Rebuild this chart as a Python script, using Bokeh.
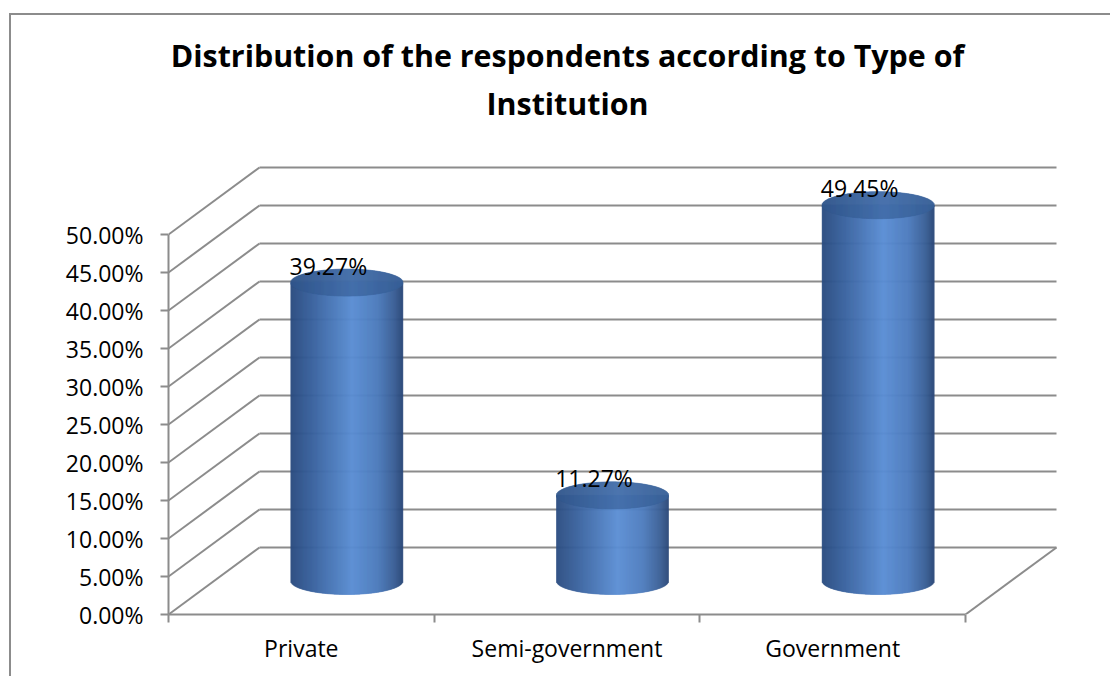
import numpy as np
from bokeh.plotting import figure
from bokeh.models import Range1d, FixedTicker, Label, ColumnDataSource, PrintfTickFormatter
from bokeh.core.properties import value
from bokeh.embed import file_html
from bokeh.resources import INLINE

# ---------------- data ----------------
categories = ["Private", "Semi-government", "Government"]
percentages = [39.27, 11.27, 49.45]
value_labels = ["39.27%", "11.27%", "49.45%"]
y_ticks = [0, 5, 10, 15, 20, 25, 30, 35, 40, 45, 50]
title_lines = ["Distribution of the respondents according to Type of", "Institution"]

# ---------------- geometry (page pixels) ----------------
PAGE_W, PAGE_H = 1112, 678
OFF_X, OFF_Y = 11, 15          # canvas origin on the page (margin + border)
FRAME_L, FRAME_B = 168, 614    # front axes corner on the page
PX_PER_CAT = 265.67
PX_PER_PCT = 7.6
DEPTH_PX_X, DEPTH_PX_Y = 91, 67
R_PX, B_PX = 56, 13.5
TITLE_CX = 567
TITLE_BASELINES = [55, 103]

W = PAGE_W - OFF_X
H = PAGE_H - OFF_Y
x_end = (PAGE_W - FRAME_L) / PX_PER_CAT
y_end = (FRAME_B - OFF_Y) / PX_PER_PCT
dx = DEPTH_PX_X / PX_PER_CAT
dy = DEPTH_PX_Y / PX_PER_PCT
r = R_PX / PX_PER_CAT
b = B_PX / PX_PER_PCT

GRAY = "#8c8c8c"

p = figure(width=W, height=H, title=None, toolbar_location=None, output_backend="svg",
           x_range=Range1d(0, x_end), y_range=Range1d(0, y_end),
           min_border_left=FRAME_L - OFF_X, min_border_bottom=PAGE_H - FRAME_B,
           min_border_top=0, min_border_right=0,
           margin=(13, 0, 0, 9),
           styles={"border-top": "2px solid #8c8c8c", "border-left": "2px solid #8c8c8c"})
p.outline_line_color = None
p.xgrid.visible = False
p.ygrid.visible = False
p.background_fill_color = "white"
p.border_fill_color = "white"

# ---- y axis ----
p.yaxis.ticker = FixedTicker(ticks=y_ticks)
p.yaxis.formatter = PrintfTickFormatter(format="%.2f%%")
p.yaxis.bounds = (0, 50)
p.yaxis.axis_line_color = GRAY
p.yaxis.axis_line_width = 2
p.yaxis.major_tick_line_color = GRAY
p.yaxis.major_tick_line_width = 2
p.yaxis.major_tick_in = 0
p.yaxis.major_tick_out = 8
p.yaxis.minor_tick_line_color = None
p.yaxis.major_label_standoff = 17
p.yaxis.major_label_text_font = "Open Sans"
p.yaxis.major_label_text_font_size = "23px"
p.yaxis.major_label_text_color = "black"

# ---- x axis ----
cat_centers = [i + 0.5 for i in range(len(categories))]
p.xaxis.ticker = FixedTicker(ticks=cat_centers, minor_ticks=list(range(len(categories) + 1)))
p.xaxis.major_label_overrides = {c: n for c, n in zip(cat_centers, categories)}
p.xaxis.bounds = (0, len(categories))
p.xaxis.axis_line_color = GRAY
p.xaxis.axis_line_width = 2
p.xaxis.major_tick_line_color = None
p.xaxis.major_tick_in = 0
p.xaxis.major_tick_out = 0
p.xaxis.minor_tick_line_color = GRAY
p.xaxis.minor_tick_line_width = 2
p.xaxis.minor_tick_in = 0
p.xaxis.minor_tick_out = 8
p.xaxis.major_label_standoff = 9
p.xaxis.major_label_text_font = "Open Sans"
p.xaxis.major_label_text_font_size = "23px"
p.xaxis.major_label_text_color = "black"

# ---- 3D walls ----
ncat = len(categories)
p.segment(x0=[dx] * len(y_ticks), y0=[t + dy for t in y_ticks],
          x1=[ncat + dx] * len(y_ticks), y1=[t + dy for t in y_ticks],
          line_color=GRAY, line_width=2)
p.segment(x0=[0] * len(y_ticks), y0=y_ticks,
          x1=[dx] * len(y_ticks), y1=[t + dy for t in y_ticks],
          line_color=GRAY, line_width=2)
p.segment(x0=[ncat], y0=[0], x1=[ncat + dx], y1=[dy], line_color=GRAY, line_width=2)

# ---- cylinders ----
body_stops = [(-1.0, (0x2b, 0x4d, 0x80)), (-0.6, (0x3a, 0x63, 0x9f)), (0.1, (0x5b, 0x8e, 0xd4)),
              (0.55, (0x4d, 0x7b, 0xbd)), (0.85, (0x3a, 0x5f, 0x96)), (1.0, (0x2b, 0x48, 0x78))]
top_stops = [(-1.0, (0x31, 0x56, 0x8b)), (0.1, (0x44, 0x6f, 0xab)), (1.0, (0x38, 0x60, 0x97))]


def interp_color(u, stops):
    for (u0, c0), (u1, c1) in zip(stops[:-1], stops[1:]):
        if u <= u1:
            t = (u - u0) / (u1 - u0)
            return "#%02x%02x%02x" % tuple(int(round(a + (bb - a) * t)) for a, bb in zip(c0, c1))
    return "#%02x%02x%02x" % stops[-1][1]


N = int(2 * R_PX)
edges = np.linspace(-1, 1, N + 1)
uc = (edges[:-1] + edges[1:]) / 2
half = np.sqrt(1 - uc ** 2)
body_cols = [interp_color(u, body_stops) for u in uc]
top_cols = [interp_color(u, top_stops) for u in uc]

body = dict(left=[], right=[], bottom=[], top=[], color=[])
cap = dict(left=[], right=[], bottom=[], top=[], color=[])
base = dy / 2
for i, v in enumerate(percentages):
    cx = i + 0.5 + dx / 2
    top_c = base + v
    body["left"] += list(cx + r * edges[:-1])
    body["right"] += list(cx + r * edges[1:])
    body["bottom"] += list(base - b * half)
    body["top"] += [top_c] * N
    body["color"] += body_cols
    cap["left"] += list(cx + r * edges[:-1])
    cap["right"] += list(cx + r * edges[1:])
    cap["bottom"] += list(top_c - b * half)
    cap["top"] += list(top_c + b * half)
    cap["color"] += top_cols

p.quad(source=ColumnDataSource(body), left="left", right="right", bottom="bottom", top="top",
       fill_color="color", line_color="color", line_width=0.6)
p.quad(source=ColumnDataSource(cap), left="left", right="right", bottom="bottom", top="top",
       fill_color="color", line_color="color", line_width=0.6)

# ---- value labels ----
LABEL_DX = -18.5 / PX_PER_CAT
LABEL_DY = 17 / PX_PER_PCT
lab = ColumnDataSource(dict(
    x=[i + 0.5 + dx / 2 + LABEL_DX for i in range(ncat)],
    y=[base + v + LABEL_DY for v in percentages],
    text=value_labels))
p.text(x="x", y="y", text="text", source=lab, text_align="center", text_baseline="alphabetic",
       text_font=value("Open Sans"), text_font_size="23px", text_color="black")

# ---- title ----
for line, bl in zip(title_lines, TITLE_BASELINES):
    p.add_layout(Label(x=(TITLE_CX - FRAME_L) / PX_PER_CAT, y=(FRAME_B - bl) / PX_PER_PCT,
                       text=line, text_align="center", text_baseline="alphabetic",
                       text_font="Open Sans", text_font_style="bold", text_font_size="30.4px",
                       text_color="black"))

open("out.html", "w").write(file_html(p, INLINE))
